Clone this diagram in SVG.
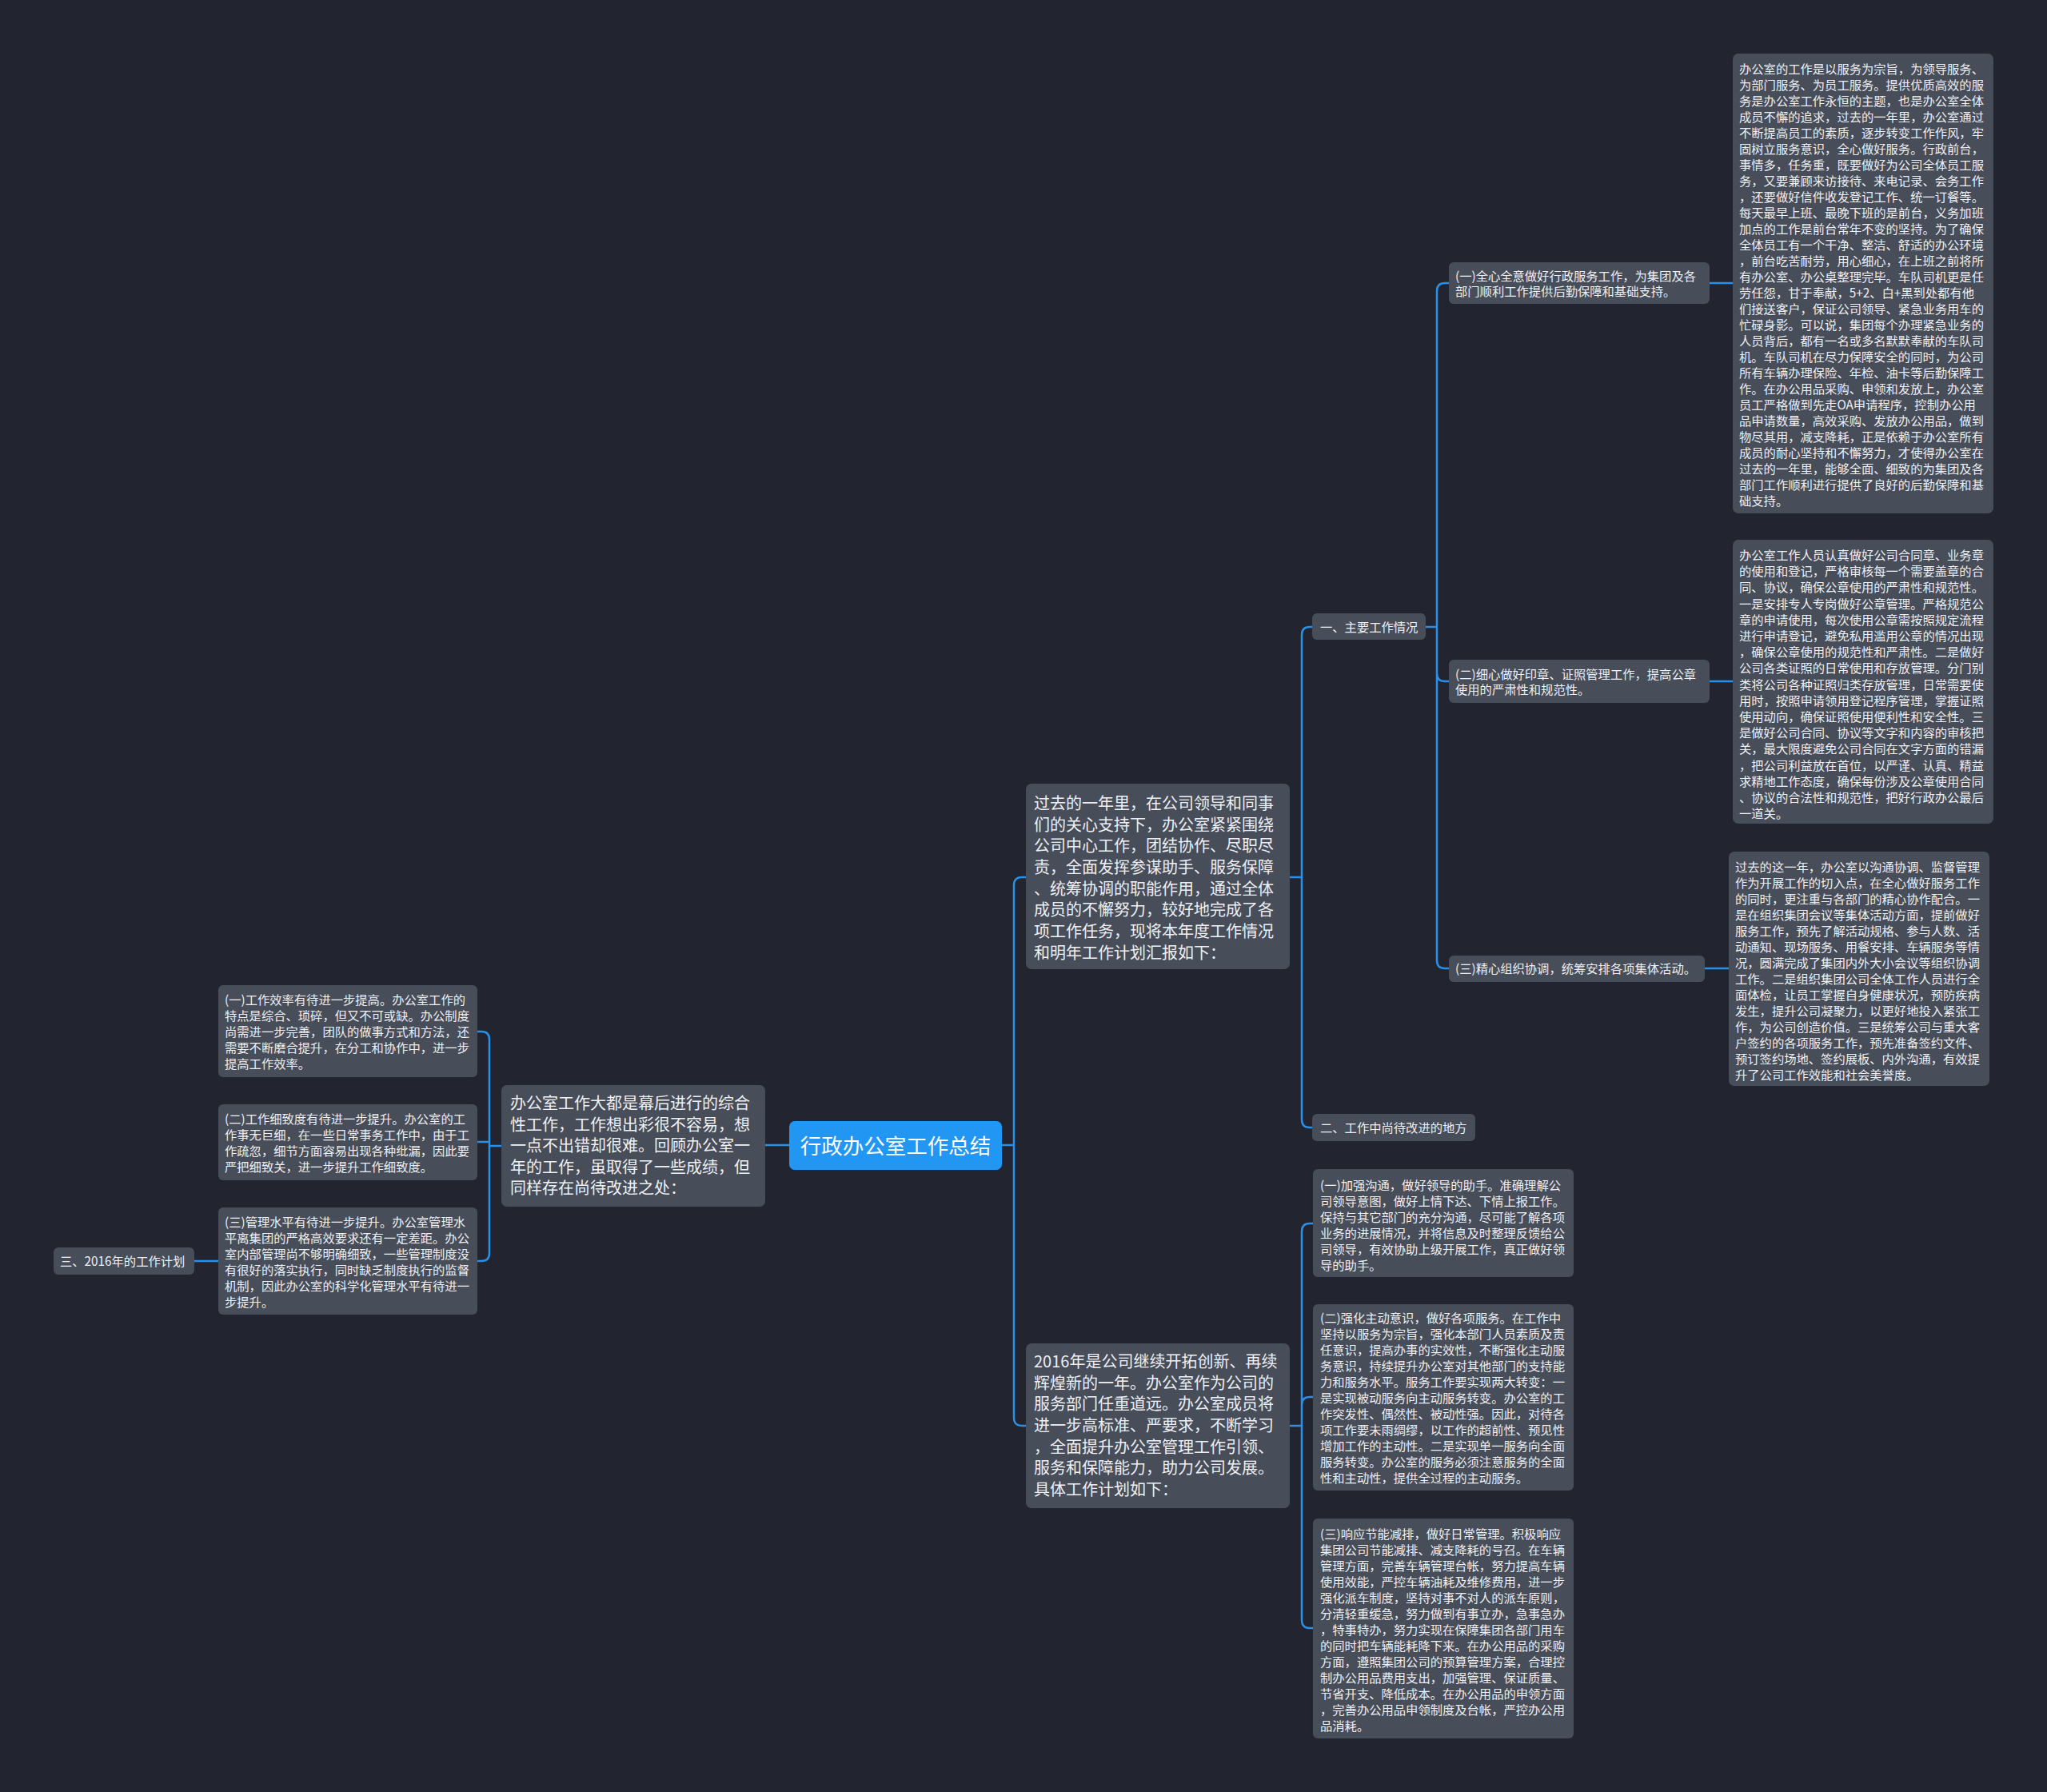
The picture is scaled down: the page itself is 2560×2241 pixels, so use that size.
<svg xmlns="http://www.w3.org/2000/svg" width="2560" height="2241" viewBox="0 0 2560 2241">
<style>
text{font-family:"Noto Sans CJK SC","Noto Sans",sans-serif;fill:#eef0f3;dominant-baseline:central}
tspan{dominant-baseline:central}
.box{fill:#484d5a}
.s{font-size:15.3px}
.m{font-size:20px}
.r{font-size:26.5px;fill:#ffffff}
.c{fill:none;stroke:#2a8fe6;stroke-width:2.5;stroke-linecap:round}
</style>
<rect width="2560" height="2241" fill="#222530"/>
<g id="connectors">
<path class="c" d="M1253 1432H1268M1268 1432V1107Q1268 1097 1278 1097H1283M1268 1432V1773Q1268 1783 1278 1783H1283"/>
<path class="c" d="M987 1432H957"/>
<path class="c" d="M627 1433H612M612 1433V1300Q612 1290 602 1290H597M612 1433V1428H597M612 1433V1567Q612 1577 602 1577H597"/>
<path class="c" d="M273 1577H243"/>
<path class="c" d="M1613 1097H1628M1628 1097V794Q1628 784 1638 784H1641M1628 1097V1400Q1628 1410 1638 1410H1641"/>
<path class="c" d="M1783 784H1797M1797 784V364Q1797 354 1807 354H1812M1797 784V842Q1797 852 1807 852H1812M1797 784V1201Q1797 1211 1807 1211H1812"/>
<path class="c" d="M2138 354H2167M2138 852H2167M2132 1211H2162"/>
<path class="c" d="M1613 1783H1628M1628 1783V1540Q1628 1530 1638 1530H1642M1628 1783V1757Q1628 1747 1638 1747H1642M1628 1783V2026Q1628 2036 1638 2036H1642"/>
</g>
<g id="root">
<rect x="987" y="1402" width="266" height="61" rx="7" fill="#2196f3"/>
<text class="r" x="1120" y="1431" text-anchor="middle">行政办公室工作总结</text>
</g>
<g id="n-intro">
<rect class="box" x="1283" y="980" width="330" height="232" rx="7"/>
<text class="m"><tspan x="1293" y="1003">过去的一年里，在公司领导和同事</tspan><tspan x="1293" y="1029.7">们的关心支持下，办公室紧紧围绕</tspan><tspan x="1293" y="1056.3">公司中心工作，团结协作、尽职尽</tspan><tspan x="1293" y="1083">责，全面发挥参谋助手、服务保障</tspan><tspan x="1293" y="1109.7">、统筹协调的职能作用，通过全体</tspan><tspan x="1293" y="1136.3">成员的不懈努力，较好地完成了各</tspan><tspan x="1293" y="1163">项工作任务，现将本年度工作情况</tspan><tspan x="1293" y="1189.7">和明年工作计划汇报如下：</tspan></text>
</g>
<g id="n-main">
<rect class="box" x="1641" y="767" width="142" height="33" rx="6"/>
<text class="s" x="1651" y="783">一、主要工作情况</text>
</g>
<g id="n-improve">
<rect class="box" x="1641" y="1393" width="204" height="34" rx="6"/>
<text class="s" x="1651" y="1409">二、工作中尚待改进的地方</text>
</g>
<g id="n-a1">
<rect class="box" x="1812" y="328" width="326" height="52" rx="6"/>
<text class="s"><tspan x="1820" y="344">(一)全心全意做好行政服务工作，为集团及各</tspan><tspan x="1820" y="363">部门顺利工作提供后勤保障和基础支持。</tspan></text>
</g>
<g id="n-a2">
<rect class="box" x="1812" y="825" width="326" height="54" rx="6"/>
<text class="s"><tspan x="1820" y="842">(二)细心做好印章、证照管理工作，提高公章</tspan><tspan x="1820" y="861">使用的严肃性和规范性。</tspan></text>
</g>
<g id="n-a3">
<rect class="box" x="1812" y="1195" width="320" height="33" rx="6"/>
<text class="s" x="1820" y="1210">(三)精心组织协调，统筹安排各项集体活动。</text>
</g>
<g id="n-t1">
<rect class="box" x="2167" y="67" width="326" height="575" rx="7"/>
<text class="s"><tspan x="2175" y="85">办公室的工作是以服务为宗旨，为领导服务、</tspan><tspan x="2175" y="105">为部门服务、为员工服务。提供优质高效的服</tspan><tspan x="2175" y="125">务是办公室工作永恒的主题，也是办公室全体</tspan><tspan x="2175" y="145">成员不懈的追求，过去的一年里，办公室通过</tspan><tspan x="2175" y="165">不断提高员工的素质，逐步转变工作作风，牢</tspan><tspan x="2175" y="185">固树立服务意识，全心做好服务。行政前台，</tspan><tspan x="2175" y="205">事情多，任务重，既要做好为公司全体员工服</tspan><tspan x="2175" y="225">务，又要兼顾来访接待、来电记录、会务工作</tspan><tspan x="2175" y="245">，还要做好信件收发登记工作、统一订餐等。</tspan><tspan x="2175" y="265">每天最早上班、最晚下班的是前台，义务加班</tspan><tspan x="2175" y="285">加点的工作是前台常年不变的坚持。为了确保</tspan><tspan x="2175" y="305">全体员工有一个干净、整洁、舒适的办公环境</tspan><tspan x="2175" y="325">，前台吃苦耐劳，用心细心，在上班之前将所</tspan><tspan x="2175" y="345">有办公室、办公桌整理完毕。车队司机更是任</tspan><tspan x="2175" y="365">劳任怨，甘于奉献，5+2、白+黑到处都有他</tspan><tspan x="2175" y="385">们接送客户，保证公司领导、紧急业务用车的</tspan><tspan x="2175" y="405">忙碌身影。可以说，集团每个办理紧急业务的</tspan><tspan x="2175" y="425">人员背后，都有一名或多名默默奉献的车队司</tspan><tspan x="2175" y="445">机。车队司机在尽力保障安全的同时，为公司</tspan><tspan x="2175" y="465">所有车辆办理保险、年检、油卡等后勤保障工</tspan><tspan x="2175" y="485">作。在办公用品采购、申领和发放上，办公室</tspan><tspan x="2175" y="505">员工严格做到先走OA申请程序，控制办公用</tspan><tspan x="2175" y="525">品申请数量，高效采购、发放办公用品，做到</tspan><tspan x="2175" y="545">物尽其用，减支降耗，正是依赖于办公室所有</tspan><tspan x="2175" y="565">成员的耐心坚持和不懈努力，才使得办公室在</tspan><tspan x="2175" y="585">过去的一年里，能够全面、细致的为集团及各</tspan><tspan x="2175" y="605">部门工作顺利进行提供了良好的后勤保障和基</tspan><tspan x="2175" y="625">础支持。</tspan></text>
</g>
<g id="n-t2">
<rect class="box" x="2167" y="675" width="326" height="355" rx="7"/>
<text class="s"><tspan x="2175" y="693">办公室工作人员认真做好公司合同章、业务章</tspan><tspan x="2175" y="713.2">的使用和登记，严格审核每一个需要盖章的合</tspan><tspan x="2175" y="733.4">同、协议，确保公章使用的严肃性和规范性。</tspan><tspan x="2175" y="753.6">一是安排专人专岗做好公章管理。严格规范公</tspan><tspan x="2175" y="773.8">章的申请使用，每次使用公章需按照规定流程</tspan><tspan x="2175" y="794">进行申请登记，避免私用滥用公章的情况出现</tspan><tspan x="2175" y="814.2">，确保公章使用的规范性和严肃性。二是做好</tspan><tspan x="2175" y="834.4">公司各类证照的日常使用和存放管理。分门别</tspan><tspan x="2175" y="854.6">类将公司各种证照归类存放管理，日常需要使</tspan><tspan x="2175" y="874.8">用时，按照申请领用登记程序管理，掌握证照</tspan><tspan x="2175" y="895">使用动向，确保证照使用便利性和安全性。三</tspan><tspan x="2175" y="915.2">是做好公司合同、协议等文字和内容的审核把</tspan><tspan x="2175" y="935.4">关，最大限度避免公司合同在文字方面的错漏</tspan><tspan x="2175" y="955.6">，把公司利益放在首位，以严谨、认真、精益</tspan><tspan x="2175" y="975.8">求精地工作态度，确保每份涉及公章使用合同</tspan><tspan x="2175" y="996">、协议的合法性和规范性，把好行政办公最后</tspan><tspan x="2175" y="1016.2">一道关。</tspan></text>
</g>
<g id="n-t3">
<rect class="box" x="2162" y="1065" width="326" height="293" rx="7"/>
<text class="s"><tspan x="2170" y="1083">过去的这一年，办公室以沟通协调、监督管理</tspan><tspan x="2170" y="1103">作为开展工作的切入点，在全心做好服务工作</tspan><tspan x="2170" y="1123">的同时，更注重与各部门的精心协作配合。一</tspan><tspan x="2170" y="1143">是在组织集团会议等集体活动方面，提前做好</tspan><tspan x="2170" y="1163">服务工作，预先了解活动规格、参与人数、活</tspan><tspan x="2170" y="1183">动通知、现场服务、用餐安排、车辆服务等情</tspan><tspan x="2170" y="1203">况，圆满完成了集团内外大小会议等组织协调</tspan><tspan x="2170" y="1223">工作。二是组织集团公司全体工作人员进行全</tspan><tspan x="2170" y="1243">面体检，让员工掌握自身健康状况，预防疾病</tspan><tspan x="2170" y="1263">发生，提升公司凝聚力，以更好地投入紧张工</tspan><tspan x="2170" y="1283">作，为公司创造价值。三是统筹公司与重大客</tspan><tspan x="2170" y="1303">户签约的各项服务工作，预先准备签约文件、</tspan><tspan x="2170" y="1323">预订签约场地、签约展板、内外沟通，有效提</tspan><tspan x="2170" y="1343">升了公司工作效能和社会美誉度。</tspan></text>
</g>
<g id="n-left">
<rect class="box" x="627" y="1357" width="330" height="152" rx="7"/>
<text class="m"><tspan x="638" y="1378">办公室工作大都是幕后进行的综合</tspan><tspan x="638" y="1404.6">性工作，工作想出彩很不容易，想</tspan><tspan x="638" y="1431.2">一点不出错却很难。回顾办公室一</tspan><tspan x="638" y="1457.8">年的工作，虽取得了一些成绩，但</tspan><tspan x="638" y="1484.4">同样存在尚待改进之处：</tspan></text>
</g>
<g id="n-l1">
<rect class="box" x="273" y="1232" width="324" height="115" rx="6"/>
<text class="s"><tspan x="281" y="1249">(一)工作效率有待进一步提高。办公室工作的</tspan><tspan x="281" y="1269">特点是综合、琐碎，但又不可或缺。办公制度</tspan><tspan x="281" y="1289">尚需进一步完善，团队的做事方式和方法，还</tspan><tspan x="281" y="1309">需要不断磨合提升，在分工和协作中，进一步</tspan><tspan x="281" y="1329">提高工作效率。</tspan></text>
</g>
<g id="n-l2">
<rect class="box" x="273" y="1381" width="324" height="95" rx="6"/>
<text class="s"><tspan x="281" y="1398">(二)工作细致度有待进一步提升。办公室的工</tspan><tspan x="281" y="1418">作事无巨细，在一些日常事务工作中，由于工</tspan><tspan x="281" y="1438">作疏忽，细节方面容易出现各种纰漏，因此要</tspan><tspan x="281" y="1458">严把细致关，进一步提升工作细致度。</tspan></text>
</g>
<g id="n-l3">
<rect class="box" x="273" y="1510" width="324" height="134" rx="6"/>
<text class="s"><tspan x="281" y="1527">(三)管理水平有待进一步提升。办公室管理水</tspan><tspan x="281" y="1547">平离集团的严格高效要求还有一定差距。办公</tspan><tspan x="281" y="1567">室内部管理尚不够明确细致，一些管理制度没</tspan><tspan x="281" y="1587">有很好的落实执行，同时缺乏制度执行的监督</tspan><tspan x="281" y="1607">机制，因此办公室的科学化管理水平有待进一</tspan><tspan x="281" y="1627">步提升。</tspan></text>
</g>
<g id="n-plan-label">
<rect class="box" x="67" y="1560" width="176" height="34" rx="6"/>
<text class="s" x="75" y="1576">三、2016年的工作计划</text>
</g>
<g id="n-2016">
<rect class="box" x="1283" y="1680" width="330" height="206" rx="7"/>
<text class="m"><tspan x="1293" y="1701">2016年是公司继续开拓创新、再续</tspan><tspan x="1293" y="1727.7">辉煌新的一年。办公室作为公司的</tspan><tspan x="1293" y="1754.3">服务部门任重道远。办公室成员将</tspan><tspan x="1293" y="1781">进一步高标准、严要求，不断学习</tspan><tspan x="1293" y="1807.7">，全面提升办公室管理工作引领、</tspan><tspan x="1293" y="1834.3">服务和保障能力，助力公司发展。</tspan><tspan x="1293" y="1861">具体工作计划如下：</tspan></text>
</g>
<g id="n-b1">
<rect class="box" x="1642" y="1462" width="326" height="135" rx="6"/>
<text class="s"><tspan x="1651" y="1481">(一)加强沟通，做好领导的助手。准确理解公</tspan><tspan x="1651" y="1501">司领导意图，做好上情下达、下情上报工作。</tspan><tspan x="1651" y="1521">保持与其它部门的充分沟通，尽可能了解各项</tspan><tspan x="1651" y="1541">业务的进展情况，并将信息及时整理反馈给公</tspan><tspan x="1651" y="1561">司领导，有效协助上级开展工作，真正做好领</tspan><tspan x="1651" y="1581">导的助手。</tspan></text>
</g>
<g id="n-b2">
<rect class="box" x="1642" y="1631" width="326" height="233" rx="6"/>
<text class="s"><tspan x="1651" y="1647">(二)强化主动意识，做好各项服务。在工作中</tspan><tspan x="1651" y="1667">坚持以服务为宗旨，强化本部门人员素质及责</tspan><tspan x="1651" y="1687">任意识，提高办事的实效性，不断强化主动服</tspan><tspan x="1651" y="1707">务意识，持续提升办公室对其他部门的支持能</tspan><tspan x="1651" y="1727">力和服务水平。服务工作要实现两大转变：一</tspan><tspan x="1651" y="1747">是实现被动服务向主动服务转变。办公室的工</tspan><tspan x="1651" y="1767">作突发性、偶然性、被动性强。因此，对待各</tspan><tspan x="1651" y="1787">项工作要未雨绸缪，以工作的超前性、预见性</tspan><tspan x="1651" y="1807">增加工作的主动性。二是实现单一服务向全面</tspan><tspan x="1651" y="1827">服务转变。办公室的服务必须注意服务的全面</tspan><tspan x="1651" y="1847">性和主动性，提供全过程的主动服务。</tspan></text>
</g>
<g id="n-b3">
<rect class="box" x="1642" y="1899" width="326" height="275" rx="6"/>
<text class="s"><tspan x="1651" y="1917">(三)响应节能减排，做好日常管理。积极响应</tspan><tspan x="1651" y="1937">集团公司节能减排、减支降耗的号召。在车辆</tspan><tspan x="1651" y="1957">管理方面，完善车辆管理台帐，努力提高车辆</tspan><tspan x="1651" y="1977">使用效能，严控车辆油耗及维修费用，进一步</tspan><tspan x="1651" y="1997">强化派车制度，坚持对事不对人的派车原则，</tspan><tspan x="1651" y="2017">分清轻重缓急，努力做到有事立办，急事急办</tspan><tspan x="1651" y="2037">，特事特办，努力实现在保障集团各部门用车</tspan><tspan x="1651" y="2057">的同时把车辆能耗降下来。在办公用品的采购</tspan><tspan x="1651" y="2077">方面，遵照集团公司的预算管理方案，合理控</tspan><tspan x="1651" y="2097">制办公用品费用支出，加强管理、保证质量、</tspan><tspan x="1651" y="2117">节省开支、降低成本。在办公用品的申领方面</tspan><tspan x="1651" y="2137">，完善办公用品申领制度及台帐，严控办公用</tspan><tspan x="1651" y="2157">品消耗。</tspan></text>
</g>
</svg>
